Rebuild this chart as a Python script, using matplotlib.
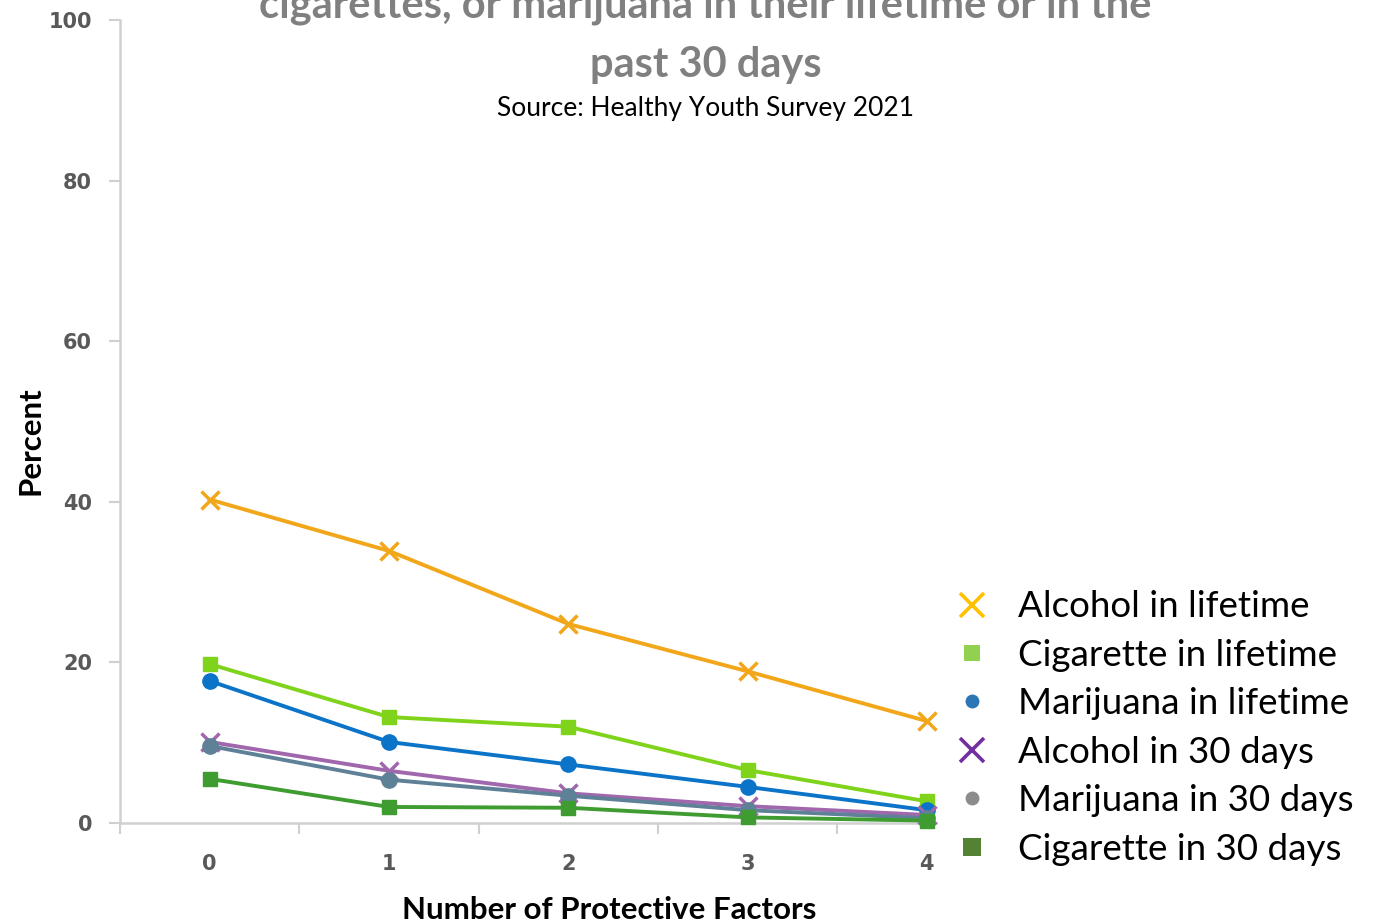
import matplotlib
matplotlib.use("Agg")
import matplotlib.pyplot as plt
from matplotlib.lines import Line2D

# data
factors = [0, 1, 2, 3, 4]
series_names = [
    "Alcohol in lifetime",
    "Cigarette in lifetime",
    "Marijuana in lifetime",
    "Alcohol in 30 days",
    "Marijuana in 30 days",
    "Cigarette in 30 days",
]
alcohol_lifetime = [40.3, 33.9, 24.8, 18.9, 12.7]
cigarette_lifetime = [19.8, 13.2, 12.0, 6.6, 2.7]
marijuana_lifetime = [17.7, 10.1, 7.3, 4.5, 1.6]
alcohol_30 = [10.1, 6.5, 3.7, 2.1, 1.0]
marijuana_30 = [9.6, 5.4, 3.4, 1.6, 0.6]
cigarette_30 = [5.5, 2.0, 1.9, 0.7, 0.3]
y_ticks = [0, 20, 40, 60, 80, 100]

values = [alcohol_lifetime, cigarette_lifetime, marijuana_lifetime,
          alcohol_30, marijuana_30, cigarette_30]
line_colors = ["#F2A71B", "#7FD31A", "#0B74C8", "#A067AD", "#5E8197", "#3F9C31"]
legend_colors = ["#FFC000", "#92D050", "#2E75B6", "#7030A0", "#8C8C8C", "#548235"]
markers = ["x", "s", "o", "x", "o", "s"]
msizes = [13, 10, 11, 13, 11, 10]

fig = plt.figure(figsize=(13.78, 9.24), dpi=100)
ax = fig.add_axes([0.0871, 0.1093, 0.592, 0.8687])

for vals, c, m, ms in zip(values, line_colors, markers, msizes):
    ax.plot(factors, vals, color=c, linewidth=2.8, marker=m, markersize=ms,
            markeredgewidth=2.5 if m == "x" else 1.0, clip_on=False, zorder=3)

ax.set_ylim(0, 100)
ax.set_xlim(-0.5, 4.05)
ax.set_yticks(y_ticks)
ax.set_xticks(factors)
ax.set_xticks([-0.5, 0.5, 1.5, 2.5, 3.5], minor=True)
ax.tick_params(axis="x", which="major", length=0, pad=22, labelsize=15, labelcolor="#595959")
ax.tick_params(axis="x", which="minor", length=8, color="#D0D0D0", width=1.5)
ax.tick_params(axis="y", length=8, color="#D0D0D0", width=1.5, pad=12, labelsize=15,
               labelcolor="#595959")
for lab in ax.get_xticklabels() + ax.get_yticklabels():
    lab.set_fontweight("bold")

for side in ["top", "right"]:
    ax.spines[side].set_visible(False)
for side in ["left", "bottom"]:
    ax.spines[side].set_color("#D0D0D0")
    ax.spines[side].set_linewidth(1.8)

# the reference image is cropped at the top, so the first title line is cut
fig.text(0.512, 0.994, "cigarettes, or marijuana in their lifetime or in the",
         ha="center", va="center", fontsize=30, fontweight="bold", color="#808080",
         family="Lato")
fig.text(0.512, 0.930, "past 30 days", ha="center", va="center", fontsize=30,
         fontweight="bold", color="#808080", family="Lato")
fig.text(0.512, 0.883, "Source: Healthy Youth Survey 2021", ha="center", va="center",
         fontsize=19, color="black", family="Lato")

fig.text(0.022, 0.523, "Percent", rotation=90, ha="center", va="center", fontsize=22.5,
         fontweight="bold", family="Lato")
fig.text(0.442, 0.015, "Number of Protective Factors", ha="center", va="center",
         fontsize=22.5, fontweight="bold", family="Lato")

handles = [Line2D([], [], linestyle="none", marker=m, color=c, markersize=ms,
                  markeredgewidth=2.6 if m == "x" else 0)
           for m, c, ms in zip(markers, legend_colors, [17, 12, 10, 17, 10, 13])]
fig.legend(handles, series_names, loc="upper left", bbox_to_anchor=(0.692, 0.361),
           frameon=False, handlelength=1.0, handletextpad=0.75,
           labelspacing=0.42, borderaxespad=0, borderpad=0,
           prop={"family": "Lato", "size": 26.5})

fig.savefig("out.png", dpi=100)
